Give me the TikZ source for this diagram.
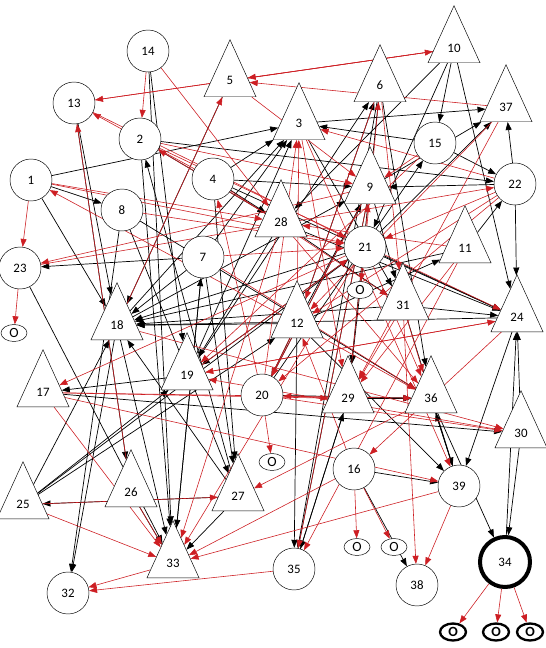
\documentclass[tikz,border=0pt]{standalone}
\usepackage{fontspec}
\setmainfont{Carlito}
\usetikzlibrary{shapes.geometric,arrows.meta,backgrounds}
\definecolor{redline}{RGB}{205,30,35}

\begin{document}
\begin{tikzpicture}[x=0.3mm,y=-0.3mm,font=\fontsize{11}{13}\selectfont]
      \useasboundingbox (0,0) rectangle (546,648);

      \begin{scope}[every node/.style={circle,draw,fill=white,minimum size=12.6mm,inner sep=0pt}]
        \node (1)  at (31,180)  {1};
        \node (2)  at (140,139) {2};
        \node (4)  at (213,179) {4};
        \node (7)  at (203,257) {7};
        \node (8)  at (122,210) {8};
        \node (13) at (74,103)  {13};
        \node (14) at (148,51)  {14};
        \node (15) at (435,143) {15};
        \node (16) at (354,469) {16};
        \node (20) at (262,395) {20};
        \node (21) at (365,247) {21};
        \node (22) at (515,184) {22};
        \node (23) at (20,268)  {23};
        \node (32) at (68,593)  {32};
        \node (35) at (294,569) {35};
        \node (38) at (417,585) {38};
        \node (39) at (459,486) {39};
        \node[line width=1.2mm,minimum size=15mm] (34) at (505,562) {34};
      \end{scope}

      \begin{scope}[every node/.style={isosceles triangle,isosceles triangle stretches,shape border rotate=90,draw,fill=white,minimum width=15.6mm,minimum height=17.1mm,inner sep=0pt,anchor=south}]
        \node (3)  at (299,140) {3};
        \node (5)  at (230,97)  {5};
        \node (6)  at (380,102) {6};
        \node (9)  at (370,204) {9};
        \node (10) at (454,63)  {10};
        \node (11) at (465,263) {11};
        \node (12) at (297,338) {12};
        \node (17) at (43,407)  {17};
        \node (18) at (117,340) {18};
        \node (19) at (187,390) {19};
        \node (24) at (517,332) {24};
        \node (25) at (23,519)  {25};
        \node (26) at (131,507) {26};
        \node (27) at (238,511) {27};
        \node (28) at (281,237) {28};
        \node (29) at (348,413) {29};
        \node (30) at (521,448) {30};
        \node (31) at (403,320) {31};
        \node (33) at (173,578) {33};
        \node (36) at (431,413) {36};
        \node (37) at (506,122) {37};
      \end{scope}

      \begin{scope}[every node/.style={ellipse,draw,fill=white,minimum width=7.8mm,minimum height=5.1mm,inner sep=0pt,font=\fontsize{12}{14}\selectfont}]
        \node (o23)  at (14,333)  {O};
        \node (o21)  at (360,290) {O};
        \node (o20)  at (272,462) {O};
        \node (o16a) at (357,547) {O};
        \node (o16b) at (394,547) {O};
        \node[line width=0.7mm,font=\fontsize{12}{14}\selectfont\bfseries] (o34a) at (453,632) {O};
        \node[line width=0.7mm,font=\fontsize{12}{14}\selectfont\bfseries] (o34b) at (496,632) {O};
        \node[line width=0.7mm,font=\fontsize{12}{14}\selectfont\bfseries] (o34c) at (530,632) {O};
      \end{scope}

      \begin{pgfonlayer}{background}
      \begin{scope}[every edge/.style={draw,line width=0.6pt,-{Triangle[length=2.4mm,width=1.8mm]}}]
        \path (1)  edge (18);
        \path (1)  edge (3);
        \path (1)  edge (8);
        \path (4)  edge (3);
        \path (2)  edge (28);
        \path (4)  edge (28);
        \path (7)  edge (23);
        \path (7)  edge (18);
        \path (21) edge (18);
        \path (31) edge (18);
        \path (12) edge (18);
        \path (24) edge (18);
        \path (25) edge (18);
        \path (27) edge (18);
        \path (18) edge (3);
        \path (7)  edge (3);
        \path (19) edge (3);
        \path (19) edge (6);
        \path (12) edge (6);
        \path (15) edge (3);
        \path (3)  edge (37);
        \path (22) edge (37);
        \path (21) edge (37);
        \path (9)  edge (37);
        \path (11) edge (22);
        \path (22) edge (9);
        \path (20) edge (9);
        \path (20) edge (15);
        \path (10) edge (24);
        \path (22) edge (24);
        \path (21) edge (24);
        \path (31) edge (24);
        \path (28) edge (24);
        \path (34) edge (24);
        \path (30) edge (24);
        \path (30) edge (34);
        \path (36) edge (34);
        \path (36) edge (39);
        \path (31) edge (39);
        \path (24) edge (39);
        \path (39) edge (36);
        \path (12) edge (39);
        \path (29) edge (36);
        \path (20) edge (36);
        \path (21) edge (29);
        \path (12) edge (20);
        \path (12) edge (35);
        \path (29) edge (35);
        \path (9)  edge (35);
        \path (6)  edge (35);
        \path (35) edge (29);
        \path (33) edge (7);
        \path (21) edge (19);
        \path (19) edge (17);
        \path (23) edge (33);
        \path (18) edge (32);
        \path (8)  edge (32);
        \path (18) edge (33);
        \path (7)  edge (33);
        \path (27) edge (33);
        \path (26) edge (33);
        \path (2)  edge (33);
        \path (14) edge (19);
        \path (14) edge (33);
        \path (7)  edge (27);
        \path (8)  edge (27);
        \path (4)  edge (27);
        \path (27) edge (25);
        \path (5)  edge (18);
        \path (27) edge (2);
        \path (10) edge (15);
        \path (10) edge (21);
        \path (10) edge (28);
        \path (6)  edge (36);
        \path (6)  edge (29);
        \path (15) edge (22);
        \path (16) edge (39);
        \path (16) edge (38);
        \path (17) edge (30);
        \path (25) edge (19);
        \path (25) edge (12);
        \path (25) edge (21);
        \path (13) edge (18);
        \path (13) edge (26);
        \path (4)  edge (24);
        \path (12) edge (9);
        \path (3)  edge (31);
        \path (28) edge (19);
        \path (9)  edge (31);
        \path (11) edge (18);
        \path (8)  edge (36);
        \path (2)  edge (22);
        \path (4)  edge (9);
        \path (28) edge (31);
        \path (18) edge (9);
        \path (12) edge (11);
      \end{scope}

      \begin{scope}[every edge/.style={draw=redline,line width=0.5pt,-{Triangle[length=2.4mm,width=1.8mm]}}]
        \path (1)  edge (23);
        \path (23) edge (o23);
        \path (21) edge (o21);
        \path (20) edge (o20);
        \path (16) edge (o16a);
        \path (16) edge (o16b);
        \path (34) edge (o34a);
        \path (34) edge (o34b);
        \path (34) edge (o34c);
        \path (39) edge (38);
        \path (10) edge (5);
        \path (37) edge (5);
        \path (10) edge (13);
        \path (13) edge (10);
        \path (4)  edge (13);
        \path (28) edge (2);
        \path (12) edge (1);
        \path (9)  edge (23);
        \path (23) edge (22);
        \path (26) edge (13);
        \path (18) edge (5);
        \path (22) edge (21);
        \path (15) edge (9);
        \path (22) edge (3);
        \path (21) edge (6);
        \path (20) edge (4);
        \path (11) edge (28);
        \path (31) edge (36);
        \path (21) edge (36);
        \path (31) edge (29);
        \path (18) edge (30);
        \path (16) edge (12);
        \path (12) edge (20);
        \path (29) edge (20);
        \path (21) edge (17);
        \path (25) edge (33);
        \path (33) edge (32);
        \path (35) edge (32);
        \path (25) edge (27);
        \path (39) edge (33);
        \path (16) edge (33);
        \path (28) edge (33);
        \path (21) edge (33);
        \path (17) edge (33);
        \path (26) edge (33);
        \path (9)  edge (35);
        \path (1)  edge (21);
        \path (1)  edge (28);
        \path (13) edge (21);
        \path (14) edge (28);
        \path (14) edge (2);
        \path (5)  edge (9);
        \path (17) edge (36);
        \path (17) edge (39);
        \path (11) edge (35);
        \path (11) edge (29);
        \path (22) edge (12);
        \path (22) edge (20);
        \path (24) edge (16);
        \path (37) edge (29);
        \path (3)  edge (39);
        \path (31) edge (38);
        \path (20) edge (3);
        \path (12) edge (3);
        \path (29) edge (9);
        \path (7)  edge (21);
        \path (19) edge (21);
        \path (2)  edge (24);
        \path (6)  edge (31);
        \path (30) edge (19);
        \path (36) edge (27);
        \path (7)  edge (36);
        \path (8)  edge (21);
        \path (2)  edge (9);
        \path (4)  edge (31);
        \path (19) edge (24);
        \path (17) edge (29);
        \path (12) edge (36);
        \path (20) edge (30);
        \path (28) edge (36);
        \path (3)  edge (29);
        \path (6)  edge (12);
        \path (15) edge (19);
        \path (24) edge (19);
        \path (37) edge (12);
        \path (9)  edge (20);
      \end{scope}
      \end{pgfonlayer}

    \end{tikzpicture}
\end{document}
